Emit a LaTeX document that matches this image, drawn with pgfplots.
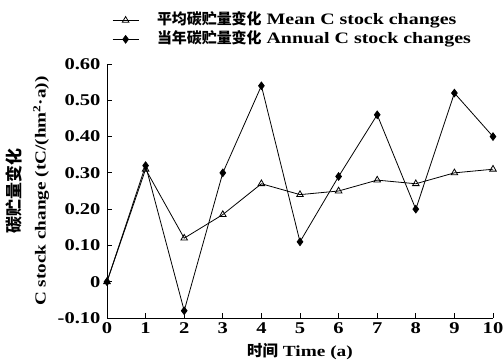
\documentclass[border=0pt]{standalone}
\usepackage{fontspec}
\setmainfont{Liberation Serif}[FakeStretch=1.25]
\newfontfamily\cjk{Noto Sans CJK SC}
\usepackage{pgfplots}
\pgfplotsset{compat=1.18}
\begin{document}
\begin{tikzpicture}
\useasboundingbox (0,0) rectangle (504bp,360bp);
\begin{axis}[
  at={(107bp,42bp)}, anchor=south west,
  scale only axis, width=386bp, height=254bp,
  xmin=0, xmax=10, ymin=-0.1, ymax=0.6,
  axis x line=bottom, axis y line=left,
  axis line style={-, line width=0.8pt},
  xtick={0,...,10},
  ytick={-0.1,0,0.1,0.2,0.3,0.4,0.5,0.6},
  yticklabels={-0.10,0,0.10,0.20,0.30,0.40,0.50,0.60},
  tick align=inside, major tick length=5bp,
  tick style={line width=0.8pt, black},
  ticklabel style={font=\fontsize{16.5}{18}\selectfont\bfseries},
  yticklabel style={xshift=-3bp},
  xticklabel style={yshift=-1bp},
  /pgf/number format/assume math mode=true,
  xlabel={{\cjk\bfseries\fontsize{15.5}{18}\selectfont 时间} \textbf{Time (a)}},
  xlabel style={font=\fontsize{15.5}{18}\selectfont, yshift=-3bp},
  ylabel={{\cjk\bfseries\fontsize{17}{25}\selectfont 碳贮量变化}\\\textbf{C stock change (tC/(hm\textsuperscript{2}·a))}},
  ylabel style={at={(rel axis cs:-0.206,0.5)}, anchor=center, align=center, font=\fontsize{15.4}{25}\selectfont},
  legend style={at={(rel axis cs:0.013,1.21)}, anchor=north west, draw=none, fill=none,
    inner sep=0pt,
    font=\fontsize{16}{19}\selectfont\bfseries,
    nodes={text height=12bp, text depth=3bp},
    legend cell align=left},
  legend image code/.code={\draw[mark repeat=2,mark phase=2,#1] plot coordinates {(0bp,0bp) (13bp,0bp) (26bp,0bp)};},
]
\addplot[black, line width=0.8pt, mark=triangle, mark size=3.8bp, mark options={fill=white, line width=0.8pt}]
 coordinates {(0,0) (1,0.31) (2,0.12) (3,0.185) (4,0.27) (5,0.24) (6,0.25) (7,0.28) (8,0.27) (9,0.30) (10,0.31)};
\addlegendentry{\hspace{16bp}{\cjk\fontsize{15}{18}\selectfont 平均碳贮量变化} Mean C stock changes}
\addplot[black, line width=0.8pt, mark=diamond*, mark size=3.8bp]
 coordinates {(0,0) (1,0.32) (2,-0.08) (3,0.30) (4,0.54) (5,0.11) (6,0.29) (7,0.46) (8,0.20) (9,0.52) (10,0.40)};
\addlegendentry{\hspace{16bp}{\cjk\fontsize{15}{18}\selectfont 当年碳贮量变化} Annual C stock changes}
\end{axis}
\end{tikzpicture}
\end{document}
